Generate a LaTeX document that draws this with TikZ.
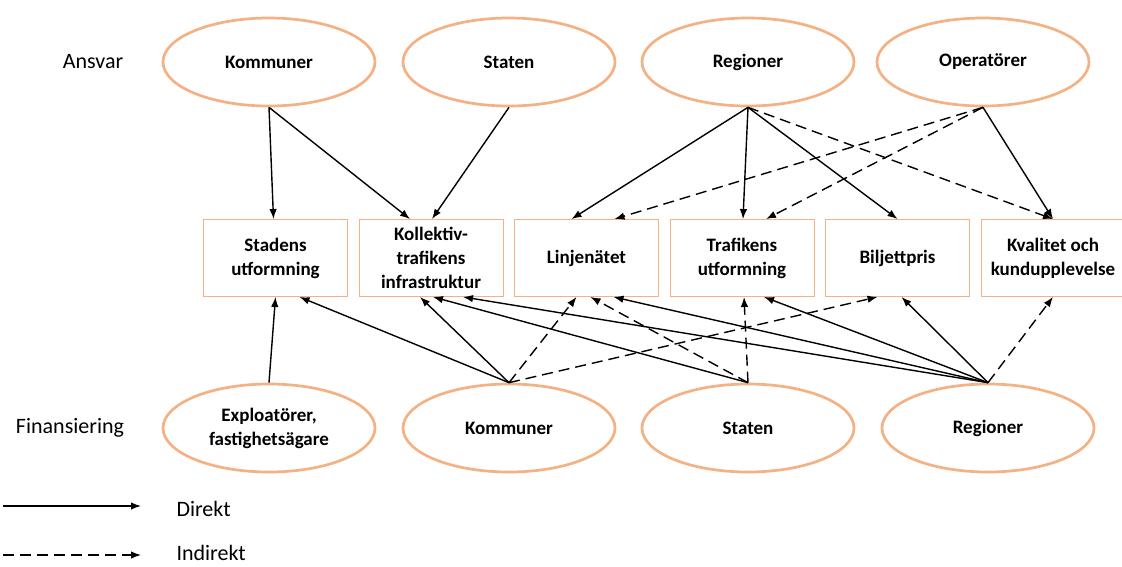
\documentclass[tikz,border=0pt]{standalone}
\usepackage{fontspec}
\setmainfont{Carlito}
\usetikzlibrary{arrows.meta,positioning,shapes.geometric}
\definecolor{ellorange}{HTML}{F4B183}
\definecolor{boxorange}{HTML}{F4B183}

\begin{document}
\begin{tikzpicture}[x=1pt,y=-1pt,
	every node/.style={on grid},
	actor/.style={draw=ellorange,ellipse,line width=2.7pt,minimum width=212pt,minimum height=88pt,inner sep=2pt,align=center,font=\fontsize{19}{24}\selectfont\bfseries},
	area/.style={draw=boxorange,rectangle,line width=0.9pt,minimum width=144pt,minimum height=77pt,align=center,font=\fontsize{19}{24}\selectfont\bfseries},
	side/.style={font=\fontsize{22}{26}\selectfont},
	direkt/.style={->,line width=1.4pt},
	indirekt/.style={->,line width=1.4pt,dash pattern=on 11pt off 6pt},
	>={Latex[length=10pt,width=7.5pt]}
	]
	\useasboundingbox (0,0) rectangle (1122,566);

	% ansvar
	\node[side] (ansvar) at (93,62) {Ansvar};
	\node[actor] (komA) at (269,62) {Kommuner};
	\node[actor,right = 240pt of komA] (statA) {Staten};
	\node[actor,right = 239pt of statA] (regA) {Regioner};
	\node[actor,right = 235pt of regA] (opA) {Operatörer};

	% the areas
	\node[area] (stad) at (275.5,258) {Stadens\\utformning};
	\node[area,right = 155.5pt of stad] (koll) {Kollektiv-\\trafikens\\infrastruktur};
	\node[area,right = 155.5pt of koll] (linje) {Linjenätet};
	\node[area,right = 155.5pt of linje] (traf) {Trafikens\\utformning};
	\node[area,right = 155.5pt of traf] (bilj) {Biljettpris};
	\node[area,right = 155.5pt of bilj] (kval) {Kvalitet och\\kundupplevelse};

	% finansiering
	\node[side] (fin) at (70,428) {Finansiering};
	\node[actor] (expF) at (269,428) {Exploatörer,\\fastighetsägare};
	\node[actor,right = 240pt of expF] (komF) {Kommuner};
	\node[actor,right = 239pt of komF] (statF) {Staten};
	\node[actor,right = 240pt of statF] (regF) {Regioner};

	% arrows from ansvar
	\draw[direkt] (komA.south) -- ([xshift=-2pt]stad.north);
	\draw[direkt] (komA.south) -- ([xshift=-21pt]koll.north);
	\draw[direkt] (statA.south) -- ([xshift=1pt]koll.north);
	\draw[direkt] (regA.south) -- ([xshift=-15pt]linje.north);
	\draw[direkt] (regA.south) -- ([xshift=1pt]traf.north);
	\draw[direkt] (regA.south) -- ([xshift=0pt]bilj.north);
	\draw[indirekt] (regA.south) -- (kval.north);
	\draw[indirekt] (opA.south) -- ([xshift=28pt]linje.north);
	\draw[indirekt] (opA.south) -- ([xshift=24pt]traf.north);
	\draw[direkt] (opA.south) -- (kval.north);

	% arrows from finansiering
	\draw[direkt] (expF.north) -- (stad.south);
	\draw[direkt] (komF.north) -- ([xshift=24pt]stad.south);
	\draw[direkt] (komF.north) -- ([xshift=-11pt]koll.south);
	\draw[indirekt] (komF.north) -- ([xshift=-10pt]linje.south);
	\draw[indirekt] (komF.north) -- ([xshift=-20pt]bilj.south);
	\draw[direkt] (statF.north) -- ([xshift=2pt]koll.south);
	\draw[indirekt] (statF.north) -- ([xshift=4pt]linje.south);
	\draw[indirekt] (statF.north) -- ([xshift=2pt]traf.south);
	\draw[direkt] (regF.north) -- ([xshift=32pt]koll.south);
	\draw[direkt] (regF.north) -- ([xshift=27pt]linje.south);
	\draw[direkt] (regF.north) -- ([xshift=22pt]traf.south);
	\draw[direkt] (regF.north) -- ([xshift=4pt]bilj.south);
	\draw[indirekt] (regF.north) -- (kval.south);

	% legend
	\coordinate (d1) at (3,506);
	\coordinate (d2) at (141,506);
	\coordinate (i1) at (3,555);
	\coordinate (i2) at (141,555);
	\draw[direkt] (d1) -- (d2);
	\draw[indirekt] (i1) -- (i2);
	\node[side,anchor=west,inner ysep=1pt] (dlab) at (173,509) {Direkt};
	\node[side,anchor=west,inner ysep=1pt] (ilab) at (173,553) {Indirekt};
\end{tikzpicture}
\end{document}
